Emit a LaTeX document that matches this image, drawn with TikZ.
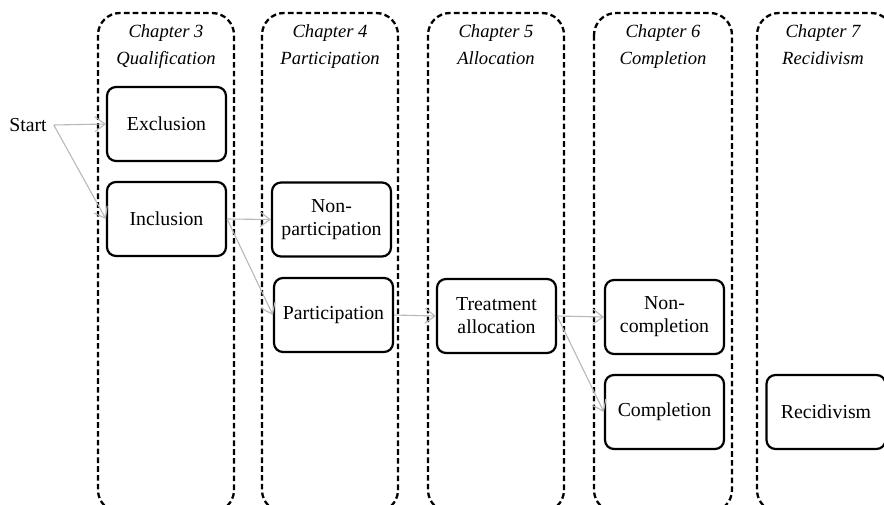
\documentclass[tikz,border=0pt]{standalone}
\usepackage{fontspec}
\setmainfont{Liberation Serif}
\usetikzlibrary{arrows.meta}
\begin{document}
\begin{tikzpicture}[x=0.5pt,y=-0.5pt,
  col/.style={draw,line width=1.15pt,dash pattern=on 2.8pt off 1.6pt,rounded corners=11pt},
  box/.style={draw,line width=1.1pt,rounded corners=4.5pt,minimum width=59.5pt,minimum height=37pt,align=center,inner sep=1pt,font=\fontsize{9.9}{11.5}\selectfont},
  hdr/.style={anchor=base,font=\fontsize{9.3}{10}\selectfont\itshape},
  arr/.style={draw=black!28,line width=0.55pt,-{Straight Barb[length=5pt,width=7.5pt]}}]
\useasboundingbox (0,0) rectangle (884,504);
\clip (0,0) rectangle (884,504);
% columns
\draw[col] (98,13) rectangle (234,512);
\draw[col] (262,13) rectangle (398,512);
\draw[col] (428,13) rectangle (564,512);
\draw[col] (594,13) rectangle (732,512);
\draw[col] (757,13) rectangle (893,512);
% headers
\node[hdr] (h3a) at (166,37) {Chapter 3};
\node[hdr] (h3b) at (166,64) {Qualification};
\node[hdr] (h4a) at (330,37) {Chapter 4};
\node[hdr] (h4b) at (330,64) {Participation};
\node[hdr] (h5a) at (496,37) {Chapter 5};
\node[hdr] (h5b) at (496,64) {Allocation};
\node[hdr] (h6a) at (663,37) {Chapter 6};
\node[hdr] (h6b) at (663,64) {Completion};
\node[hdr] (h7a) at (823,37) {Chapter 7};
\node[hdr] (h7b) at (823,64) {Recidivism};
% nodes
\node[font=\fontsize{9.9}{11.5}\selectfont] (start) at (28,125) {Start};
\node[box] (excl) at (166.5,124) {Exclusion};
\node[box] (incl) at (166.5,219) {Inclusion};
\node[box] (nonpart) at (331.5,219.5) {Non-\\participation};
\node[box] (part) at (333.5,315) {Participation};
\node[box] (treat) at (496.5,316) {Treatment\\allocation};
\node[box] (noncomp) at (664.5,317) {Non-\\completion};
\node[box] (comp) at (664.5,412) {Completion};
\node[box] (recid) at (826,412) {Recidivism};
% connectors
\draw[arr] (start.east) -- (excl.west);
\draw[arr] (start.east) -- (incl.west);
\draw[arr] (incl.east) -- (nonpart.west);
\draw[arr] (incl.east) -- (part.west);
\draw[arr] (part.east) -- (treat.west);
\draw[arr] (treat.east) -- (noncomp.west);
\draw[arr] (treat.east) -- (comp.west);
\end{tikzpicture}
\end{document}
